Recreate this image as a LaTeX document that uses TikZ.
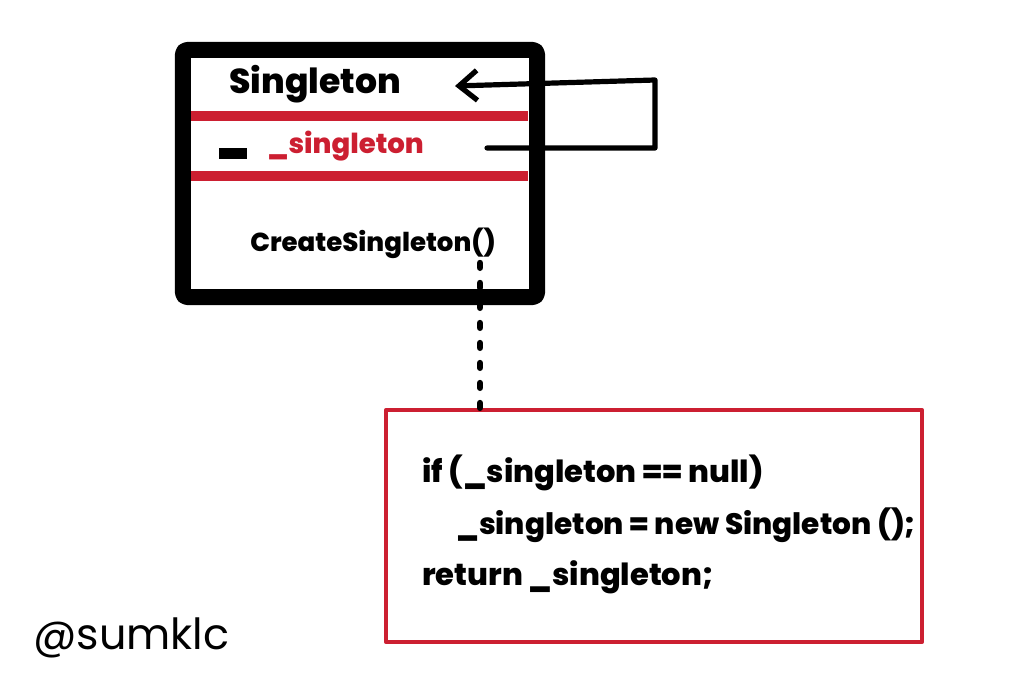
\documentclass[tikz,border=0pt]{standalone}
\usepackage{fontspec}
\setmainfont{Poppins}[BoldFont={Poppins ExtraBold}]
\usetikzlibrary{positioning,arrows.meta}
\definecolor{umlred}{HTML}{CC1F31}
\tikzset{
  membertext/.style={anchor=west,inner sep=0pt,font=\bfseries\fontsize{18.5}{21}\selectfont},
  codetext/.style={anchor=west,inner sep=0pt,font=\bfseries\fontsize{21.7}{25}\selectfont}
}
\begin{document}
\begin{tikzpicture}[x=0.025cm,y=-0.025cm,line join=round,line cap=round,>=stealth]
  \useasboundingbox (0,0) rectangle (1024,683);
  % class box and its compartments
  \node[draw,line width=0.4cm,rounded corners=3pt,minimum width=8.85cm,minimum height=6.175cm,inner sep=0pt] (classbox) at (360,173.5) {};
  \foreach \y in {116,176}\draw[umlred,line width=0.25cm,line cap=butt] (191,\y) -- (528,\y);
  \node[anchor=west,inner sep=0pt,font=\bfseries\fontsize{24.6}{28}\selectfont] (title) at (229,84) {Singleton};
  \fill (219,148) rectangle (247,159);
  \node[membertext,text=umlred,font=\bfseries\fontsize{19.6}{22}\selectfont] (field) at (267,146) {\_singleton};
  \node[membertext] (method) at (250,243) {CreateSingleton()};
  % self reference
  \path
  (487,148) coordinate (fieldend)
  (655,80) coordinate (loop)
  (455,86) coordinate (titletip)
  (480,263) coordinate (dotstart)
  ;
  \draw[line width=0.13cm,-{Straight Barb[length=0.45cm,width=0.75cm]}] (fieldend) -- (fieldend -| loop) -- (loop) -- (titletip);
  % code box
  \node[draw=umlred,line width=0.1cm,minimum width=13.4cm,minimum height=5.8cm,inner sep=0pt] (codebox) at (654,526) {};
  \draw[line width=0.16cm,dash pattern=on 0.12cm off 0.38cm] (dotstart) -- (dotstart |- codebox.north);
  \node[codetext] (line1) at (422,473) {if (\_singleton == null)};
  \node[codetext,font=\bfseries\fontsize{21}{25}\selectfont] (line2) at (456,525) {\_singleton = new Singleton ();};
  \node[codetext] (line3) at (422,577) {return \_singleton;};
  \node[anchor=west,inner sep=0pt,font=\fontsize{30.5}{34}\selectfont] (author) at (33,638) {@sumklc};
\end{tikzpicture}
\end{document}
